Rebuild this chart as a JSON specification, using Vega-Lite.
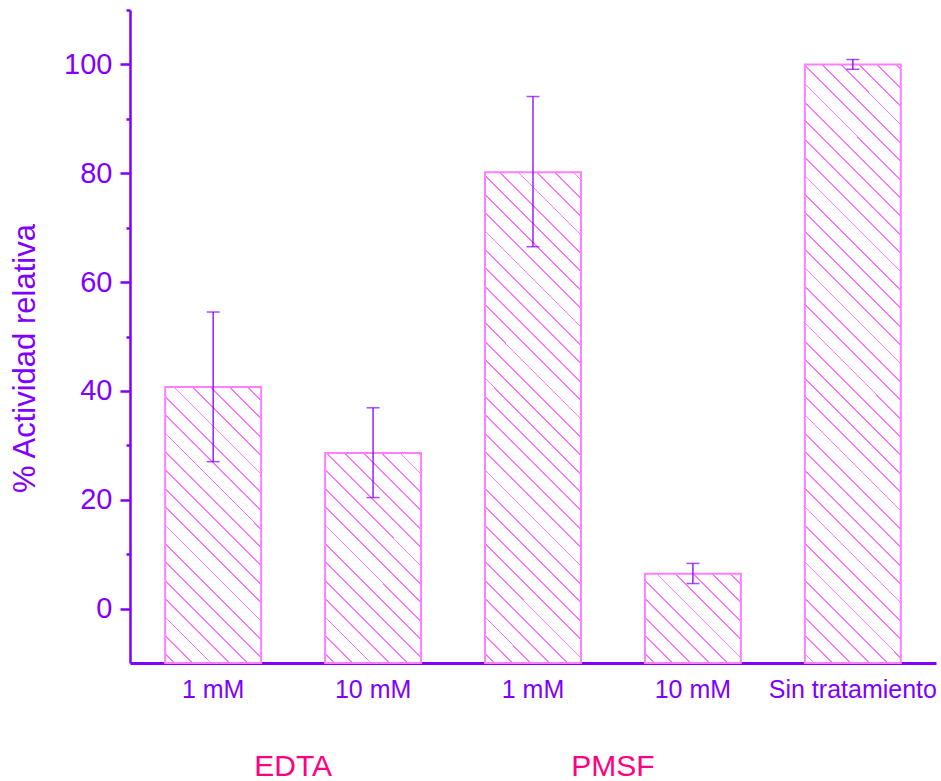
{
  "$schema": "https://vega.github.io/schema/vega-lite/v6.json",
  "width": 806,
  "height": 653,
  "autosize": {"type": "none"},
  "padding": {"left": 130, "top": 10, "right": 5, "bottom": 118},
  "background": "white",
  "config": {"view": {"stroke": null}, "font": "Liberation Sans"},
  "data": {"values": [
    {"cond": "EDTA 1 mM", "value": 40.7, "lo": 27.0, "hi": 54.5},
    {"cond": "EDTA 10 mM", "value": 28.6, "lo": 20.4, "hi": 36.9},
    {"cond": "PMSF 1 mM", "value": 80.2, "lo": 66.5, "hi": 94.1},
    {"cond": "PMSF 10 mM", "value": 6.4, "lo": 4.6, "hi": 8.3},
    {"cond": "Sin tratamiento", "value": 100.0, "lo": 99.1, "hi": 100.9}
  ]},
  "encoding": {
    "x": {
      "field": "cond", "type": "nominal",
      "scale": {"domain": ["EDTA 1 mM", "EDTA 10 mM", "PMSF 1 mM", "PMSF 10 mM", "Sin tratamiento"], "paddingInner": 0.4, "paddingOuter": 0.22},
      "axis": {
        "title": null, "labelAngle": 0, "ticks": false, "labelPadding": 14,
        "labelFontSize": 25, "labelColor": "#8000ff", "labelFont": "Liberation Sans",
        "domainColor": "#8000ff", "domainWidth": 3,
        "labelExpr": "replace(replace(datum.label, 'EDTA ', ''), 'PMSF ', '')"
      }
    }
  },
  "layer": [
    {
      "mark": {
        "type": "bar",
        "stroke": "#ff80ff",
        "strokeWidth": 2,
        "fill": {"expr": "{gradient:'linear',x1:0,y1:1,x2:698.6*96/(9216+pow((datum.value+10)*5.44167,2)),y2:1-698.6*(datum.value+10)*5.44167/(9216+pow((datum.value+10)*5.44167,2)),stops:[{offset:0,color:'#fff'},{offset:0.0118,color:'#fff'},{offset:0.0118,color:'#f7f'},{offset:0.0144,color:'#f7f'},{offset:0.0144,color:'#fff'},{offset:0.0381,color:'#fff'},{offset:0.0381,color:'#f7f'},{offset:0.0407,color:'#f7f'},{offset:0.0407,color:'#fff'},{offset:0.0644,color:'#fff'},{offset:0.0644,color:'#f7f'},{offset:0.0670,color:'#f7f'},{offset:0.0670,color:'#fff'},{offset:0.0907,color:'#fff'},{offset:0.0907,color:'#f7f'},{offset:0.0933,color:'#f7f'},{offset:0.0933,color:'#fff'},{offset:0.1171,color:'#fff'},{offset:0.1171,color:'#f7f'},{offset:0.1197,color:'#f7f'},{offset:0.1197,color:'#fff'},{offset:0.1434,color:'#fff'},{offset:0.1434,color:'#f7f'},{offset:0.1460,color:'#f7f'},{offset:0.1460,color:'#fff'},{offset:0.1697,color:'#fff'},{offset:0.1697,color:'#f7f'},{offset:0.1723,color:'#f7f'},{offset:0.1723,color:'#fff'},{offset:0.1960,color:'#fff'},{offset:0.1960,color:'#f7f'},{offset:0.1986,color:'#f7f'},{offset:0.1986,color:'#fff'},{offset:0.2223,color:'#fff'},{offset:0.2223,color:'#f7f'},{offset:0.2249,color:'#f7f'},{offset:0.2249,color:'#fff'},{offset:0.2486,color:'#fff'},{offset:0.2486,color:'#f7f'},{offset:0.2512,color:'#f7f'},{offset:0.2512,color:'#fff'},{offset:0.2750,color:'#fff'},{offset:0.2750,color:'#f7f'},{offset:0.2776,color:'#f7f'},{offset:0.2776,color:'#fff'},{offset:0.3013,color:'#fff'},{offset:0.3013,color:'#f7f'},{offset:0.3039,color:'#f7f'},{offset:0.3039,color:'#fff'},{offset:0.3276,color:'#fff'},{offset:0.3276,color:'#f7f'},{offset:0.3302,color:'#f7f'},{offset:0.3302,color:'#fff'},{offset:0.3539,color:'#fff'},{offset:0.3539,color:'#f7f'},{offset:0.3565,color:'#f7f'},{offset:0.3565,color:'#fff'},{offset:0.3802,color:'#fff'},{offset:0.3802,color:'#f7f'},{offset:0.3828,color:'#f7f'},{offset:0.3828,color:'#fff'},{offset:0.4065,color:'#fff'},{offset:0.4065,color:'#f7f'},{offset:0.4091,color:'#f7f'},{offset:0.4091,color:'#fff'},{offset:0.4329,color:'#fff'},{offset:0.4329,color:'#f7f'},{offset:0.4355,color:'#f7f'},{offset:0.4355,color:'#fff'},{offset:0.4592,color:'#fff'},{offset:0.4592,color:'#f7f'},{offset:0.4618,color:'#f7f'},{offset:0.4618,color:'#fff'},{offset:0.4855,color:'#fff'},{offset:0.4855,color:'#f7f'},{offset:0.4881,color:'#f7f'},{offset:0.4881,color:'#fff'},{offset:0.5118,color:'#fff'},{offset:0.5118,color:'#f7f'},{offset:0.5144,color:'#f7f'},{offset:0.5144,color:'#fff'},{offset:0.5381,color:'#fff'},{offset:0.5381,color:'#f7f'},{offset:0.5407,color:'#f7f'},{offset:0.5407,color:'#fff'},{offset:0.5644,color:'#fff'},{offset:0.5644,color:'#f7f'},{offset:0.5670,color:'#f7f'},{offset:0.5670,color:'#fff'},{offset:0.5908,color:'#fff'},{offset:0.5908,color:'#f7f'},{offset:0.5934,color:'#f7f'},{offset:0.5934,color:'#fff'},{offset:0.6171,color:'#fff'},{offset:0.6171,color:'#f7f'},{offset:0.6197,color:'#f7f'},{offset:0.6197,color:'#fff'},{offset:0.6434,color:'#fff'},{offset:0.6434,color:'#f7f'},{offset:0.6460,color:'#f7f'},{offset:0.6460,color:'#fff'},{offset:0.6697,color:'#fff'},{offset:0.6697,color:'#f7f'},{offset:0.6723,color:'#f7f'},{offset:0.6723,color:'#fff'},{offset:0.6960,color:'#fff'},{offset:0.6960,color:'#f7f'},{offset:0.6986,color:'#f7f'},{offset:0.6986,color:'#fff'},{offset:0.7223,color:'#fff'},{offset:0.7223,color:'#f7f'},{offset:0.7249,color:'#f7f'},{offset:0.7249,color:'#fff'},{offset:0.7487,color:'#fff'},{offset:0.7487,color:'#f7f'},{offset:0.7513,color:'#f7f'},{offset:0.7513,color:'#fff'},{offset:0.7750,color:'#fff'},{offset:0.7750,color:'#f7f'},{offset:0.7776,color:'#f7f'},{offset:0.7776,color:'#fff'},{offset:0.8013,color:'#fff'},{offset:0.8013,color:'#f7f'},{offset:0.8039,color:'#f7f'},{offset:0.8039,color:'#fff'},{offset:0.8276,color:'#fff'},{offset:0.8276,color:'#f7f'},{offset:0.8302,color:'#f7f'},{offset:0.8302,color:'#fff'},{offset:0.8539,color:'#fff'},{offset:0.8539,color:'#f7f'},{offset:0.8565,color:'#f7f'},{offset:0.8565,color:'#fff'},{offset:0.8802,color:'#fff'},{offset:0.8802,color:'#f7f'},{offset:0.8828,color:'#f7f'},{offset:0.8828,color:'#fff'},{offset:0.9066,color:'#fff'},{offset:0.9066,color:'#f7f'},{offset:0.9092,color:'#f7f'},{offset:0.9092,color:'#fff'},{offset:0.9329,color:'#fff'},{offset:0.9329,color:'#f7f'},{offset:0.9355,color:'#f7f'},{offset:0.9355,color:'#fff'},{offset:0.9592,color:'#fff'},{offset:0.9592,color:'#f7f'},{offset:0.9618,color:'#f7f'},{offset:0.9618,color:'#fff'},{offset:0.9855,color:'#fff'},{offset:0.9855,color:'#f7f'},{offset:0.9881,color:'#f7f'},{offset:0.9881,color:'#fff'},{offset:1,color:'#fff'}]}"}
      },
      "encoding": {
        "y": {
          "field": "value", "type": "quantitative",
          "scale": {"domain": [-10, 110], "nice": false, "zero": false},
          "axis": {
            "values": [0, 10, 20, 30, 40, 50, 60, 70, 80, 90, 100, 110],
            "labelExpr": "datum.value % 20 === 0 ? datum.label : ''",
            "tickSize": {"condition": {"test": "datum.value % 20 === 0", "value": 10}, "value": 4},
            "tickWidth": 2.5, "tickColor": "#8000ff",
            "domainColor": "#8000ff", "domainWidth": 2.5,
            "grid": false,
            "labelFontSize": 29, "labelColor": "#8000ff", "labelPadding": 8, "labelFont": "Liberation Sans",
            "title": "% Actividad relativa", "titleFontSize": 31, "titleFontWeight": "normal",
            "titleColor": "#8000ff", "titleFont": "Liberation Sans", "titlePadding": 22, "titleY": 348
          }
        },
        "y2": {"datum": -10}
      }
    },
    {
      "mark": {"type": "rule", "color": "#8000ff", "strokeWidth": 1.3},
      "encoding": {
        "y": {"field": "lo", "type": "quantitative"},
        "y2": {"field": "hi"}
      }
    },
    {
      "mark": {"type": "tick", "color": "#8000ff", "size": 13, "thickness": 1.5, "orient": "horizontal"},
      "encoding": {"y": {"field": "lo", "type": "quantitative"}}
    },
    {
      "mark": {"type": "tick", "color": "#8000ff", "size": 13, "thickness": 1.5, "orient": "horizontal"},
      "encoding": {"y": {"field": "hi", "type": "quantitative"}}
    },
    {
      "data": {"values": [
        {"cond": "EDTA 1 mM", "grp": "EDTA"},
        {"cond": "PMSF 1 mM", "grp": "PMSF"}
      ]},
      "mark": {"type": "text", "fontSize": 30, "color": "#ff0080", "font": "Liberation Sans", "align": "center", "baseline": "alphabetic"},
      "encoding": {
        "x": {"field": "cond", "type": "nominal", "bandPosition": 1.3333},
        "y": {"datum": -30.8, "type": "quantitative"},
        "text": {"field": "grp"}
      }
    }
  ]
}
